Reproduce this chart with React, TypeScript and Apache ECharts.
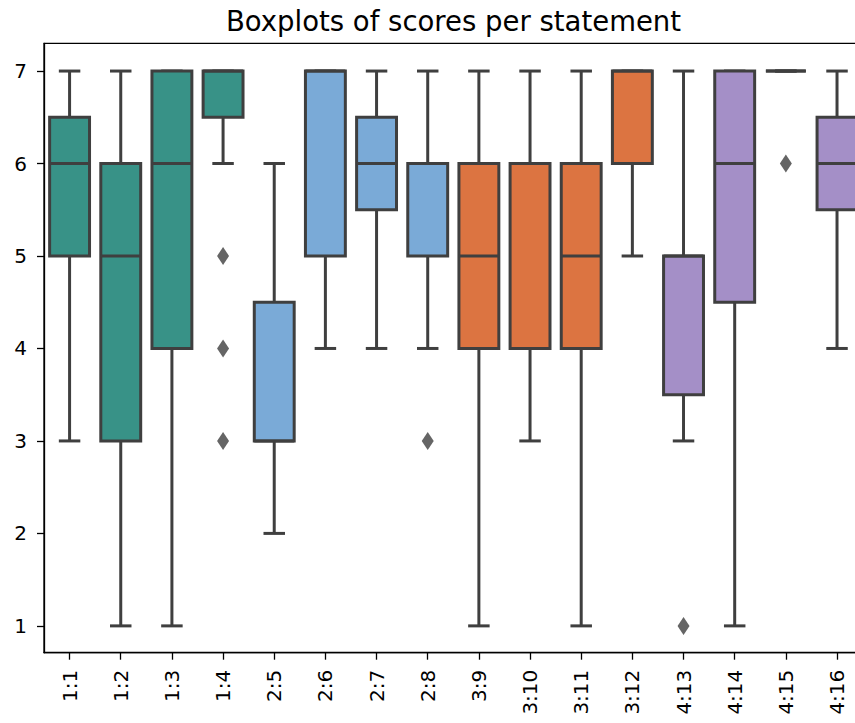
import React, { useEffect, useRef } from "react";
import * as echarts from "echarts";

const categories = ["1:1", "1:2", "1:3", "1:4", "2:5", "2:6", "2:7", "2:8", "3:9", "3:10", "3:11", "3:12", "4:13", "4:14", "4:15", "4:16"];
const whiskerLow = [3, 1, 1, 6, 2, 4, 4, 4, 1, 3, 1, 5, 3, 1, 7, 4];
const q1 = [5, 3, 4, 6.5, 3, 5, 5.5, 5, 4, 4, 4, 6, 3.5, 4.5, 7, 5.5];
const median = [6, 5, 6, 7, 3, 7, 6, 6, 5, 6, 5, 7, 5, 6, 7, 6];
const q3 = [6.5, 6, 7, 7, 4.5, 7, 6.5, 6, 6, 6, 6, 7, 5, 7, 7, 6.5];
const whiskerHigh = [7, 7, 7, 7, 6, 7, 7, 7, 7, 7, 7, 7, 7, 7, 7, 7];
const outlierCats = ["1:4", "1:4", "1:4", "2:8", "4:13", "4:15"];
const outlierValues = [5, 4, 3, 3, 1, 6];
const groupColors = ["#389287", "#7aaad7", "#dc7441", "#a48fc7"];
const yTicks = [1, 2, 3, 4, 5, 6, 7];

const LINE = "#3f3f3f";
const FONT = "DejaVu Sans";

export default function App() {
  const ref = useRef<HTMLDivElement>(null);
  useEffect(() => {
    if (!ref.current) return;
    const chart = echarts.init(ref.current, undefined, { renderer: "svg" });
    const boxData = categories.map((c, i) => [i, whiskerLow[i], q1[i], median[i], q3[i], whiskerHigh[i]]);
    const option: any = {
      animation: false,
      title: {
        text: "Boxplots of scores per statement",
        left: "center",
        top: 2,
        textStyle: { fontSize: 27.5, fontWeight: "normal", color: "#000", fontFamily: FONT },
      },
      grid: {
        left: 44,
        right: 44.4,
        top: 43.3,
        bottom: 70.3,
        show: true,
        borderColor: "#000",
        borderWidth: 1.3,
        backgroundColor: "transparent",
      },
      xAxis: {
        type: "category",
        data: categories,
        boundaryGap: true,
        axisLine: { show: true, lineStyle: { color: "#000", width: 1.3 } },
        axisTick: { show: true, alignWithLabel: true, length: 7, lineStyle: { color: "#000", width: 1.3 } },
        axisLabel: { rotate: 90, fontSize: 20, color: "#000", fontFamily: FONT, margin: 17, interval: 0 },
        splitLine: { show: false },
      },
      yAxis: {
        type: "value",
        min: 0.71,
        max: 7.3,
        axisLine: { show: true, lineStyle: { color: "#000", width: 1.3 } },
        axisTick: { show: true, length: 7, customValues: yTicks, lineStyle: { color: "#000", width: 1.3 } },
        axisLabel: { fontSize: 20, color: "#000", fontFamily: FONT, margin: 17, customValues: yTicks },
        splitLine: { show: false },
      },
      series: [
        {
          type: "custom",
          data: boxData,
          encode: { x: 0, y: [1, 2, 3, 4, 5] },
          renderItem: (params: any, api: any) => {
            const i = api.value(0);
            const lo = api.value(1);
            const a = api.value(2);
            const m = api.value(3);
            const b = api.value(4);
            const hi = api.value(5);
            const band = api.size([1, 0])[0];
            const x = api.coord([i, m])[0];
            const yLo = api.coord([i, lo])[1];
            const yA = api.coord([i, a])[1];
            const yM = api.coord([i, m])[1];
            const yB = api.coord([i, b])[1];
            const yHi = api.coord([i, hi])[1];
            const bw = band * 0.78;
            const cw = band * 0.42;
            const color = groupColors[parseInt(categories[i].split(":")[0], 10) - 1];
            const ls = { stroke: LINE, lineWidth: 3 };
            return {
              type: "group",
              children: [
                { type: "line", shape: { x1: x, y1: yA, x2: x, y2: yLo }, style: ls },
                { type: "line", shape: { x1: x, y1: yB, x2: x, y2: yHi }, style: ls },
                { type: "line", shape: { x1: x - cw / 2, y1: yLo, x2: x + cw / 2, y2: yLo }, style: ls },
                { type: "line", shape: { x1: x - cw / 2, y1: yHi, x2: x + cw / 2, y2: yHi }, style: ls },
                {
                  type: "rect",
                  shape: { x: x - bw / 2, y: yB, width: bw, height: yA - yB },
                  style: { fill: color, stroke: LINE, lineWidth: 3 },
                },
                { type: "line", shape: { x1: x - bw / 2, y1: yM, x2: x + bw / 2, y2: yM }, style: ls },
              ],
            };
          },
          z: 2,
        },
        {
          type: "scatter",
          data: outlierCats.map((c, k) => [c, outlierValues[k]]),
          symbol: "diamond",
          symbolSize: [12, 18],
          itemStyle: { color: LINE },
          z: 3,
        },
      ],
    };
    chart.setOption(option);
    return () => chart.dispose();
  }, []);
  return (
    <div style={{ position: "absolute", left: 0, top: 0, width: 855, height: 723, overflow: "hidden", background: "#fff" }}>
      <div ref={ref} style={{ width: 907, height: 723 }} />
    </div>
  );
}
